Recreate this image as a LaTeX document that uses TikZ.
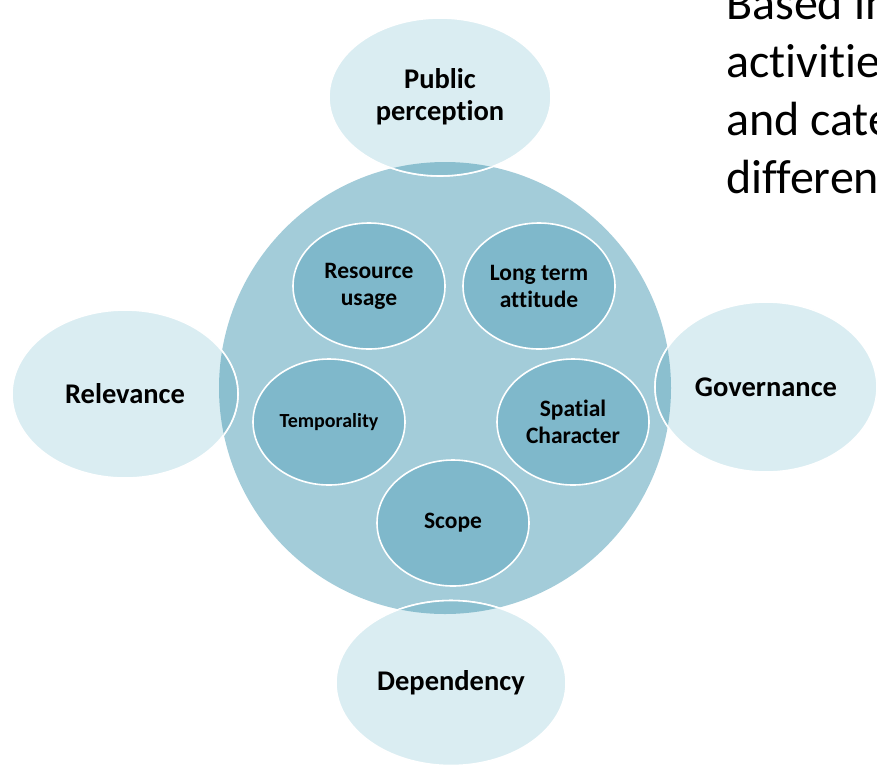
\documentclass[tikz,border=0pt]{standalone}
\usepackage{fontspec}
\setmainfont{Carlito}[Ligatures=NoCommon]
\usetikzlibrary{shapes.geometric}
\usetikzlibrary{positioning}
\definecolor{bigfill}{HTML}{A3CCD9}
\definecolor{innerfill}{HTML}{7FB8CB}
\definecolor{outerfill}{HTML}{DAEDF2}
\definecolor{lensfill}{HTML}{8BBFCF}
\tikzset{inner/.style = {ellipse, draw=white, line width=1.6pt, fill=innerfill,
                         minimum width=152pt, minimum height=126pt, align=center,
                         inner sep=0pt, font=\bfseries\fontsize{23.5}{27}\selectfont}}
\tikzset{outer/.style = {ellipse, draw=white, line width=1.6pt, fill=outerfill,
                         align=center, inner sep=0pt,
                         font=\bfseries\fontsize{28.5}{32}\selectfont}}

\begin{document}
\begin{tikzpicture}[x=1pt, y=-1pt]
    \useasboundingbox (0, 0) rectangle (877, 772);
    \fill [bigfill] (445, 388) circle [radius=226];
    \node [inner] (res) at (369, 286) {Resource\\usage};
    \node [inner] (lta) at (539, 286) {Long term\\attitude};
    \node [inner, font=\bfseries\fontsize{20}{24}\selectfont] (tem) at (329, 422) {Temporality};
    \node [inner] (spa) at (573, 422) {Spatial\\Character};
    \node [inner] (sco) at (453, 523) {Scope};
    \node [outer, minimum width=222pt, minimum height=158pt] (pub) at (440, 97) {Public\\perception};
    \node [outer, minimum width=226pt, minimum height=168pt] (rel) at (125, 394) {Relevance};
    \node [outer, minimum width=222pt, minimum height=170pt] (gov) at (766, 387) {Governance};
    \node [outer, minimum width=230pt, minimum height=165pt] (dep) at (451, 683) {Dependency};
    % darker lens where the outer ellipses lie over the big circle
    \begin{scope}
      \clip (445, 388) circle [radius=226];
      \foreach \n/\rx/\ry in {pub/111/79, rel/113/84, gov/111/85, dep/115/82.5}
        \filldraw [lensfill, draw=white, line width=1.6pt] (\n.center) ellipse [x radius=\rx, y radius=\ry];
    \end{scope}
    % text running off the right edge
    \foreach \t [count=\i] in {Based in, activitie, and cate, differen}
      \node [anchor=base west, inner sep=0pt, font=\fontsize{48}{58}\selectfont]
        (line\i) at (726, 19 + 58*\i - 58) {\t};
  \end{tikzpicture}
\end{document}
